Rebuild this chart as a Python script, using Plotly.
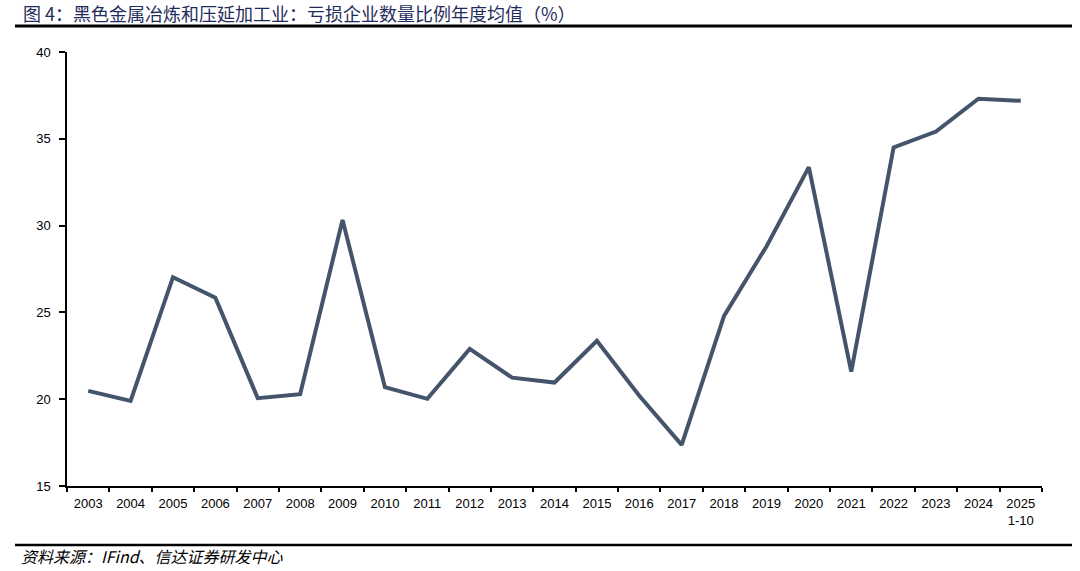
import plotly.graph_objects as go

years = ["2003", "2004", "2005", "2006", "2007", "2008", "2009", "2010", "2011", "2012",
         "2013", "2014", "2015", "2016", "2017", "2018", "2019", "2020", "2021", "2022",
         "2023", "2024", "2025<br>1-10"]
loss_ratio = [20.48, 19.9, 27.03, 25.85, 20.06, 20.29, 30.33, 20.69, 20.02, 22.9,
              21.24, 20.96, 23.36, 20.2, 17.37, 24.8, 28.8, 33.37, 21.59, 34.5,
              35.42, 37.31, 37.19]
y_ticks = [15, 20, 25, 30, 35, 40]

title_text = "图 4：黑色金属冶炼和压延加工业：亏损企业数量比例年度均值（%）"
source_text = "资料来源：IFind、信达证券研发中心"

W, H = 1080, 571
# plot area in page px
PX0, PX1, PY0, PY1 = 67, 1042, 52, 486
L, R, T, B = PX0, W - PX1, PY0, H - PY1
pw, ph = PX1 - PX0, PY1 - PY0

def px_x(p):
    return (p - PX0) / pw

def px_y(p):
    return (PY1 - p) / ph

fig = go.Figure()
fig.add_trace(go.Scatter(
    x=years, y=loss_ratio, mode="lines",
    line=dict(color="#44546A", width=4),
    showlegend=False, hoverinfo="x+y",
))

fig.update_layout(
    width=W, height=H,
    margin=dict(l=L, r=R, t=T, b=B),
    paper_bgcolor="white", plot_bgcolor="white",
    font=dict(family="Liberation Sans, Arial, sans-serif", size=13, color="black"),
    xaxis=dict(
        type="category", showgrid=False, zeroline=False,
        showline=True, linecolor="black", linewidth=1.5,
        ticks="outside", tickson="boundaries", ticklen=4, tickcolor="black", tickwidth=1.5,
        tickfont=dict(size=13, color="black"), ticklabelstandoff=5,
        range=[-0.5, len(years) - 0.5],
    ),
    yaxis=dict(
        range=[15, 40], tickvals=y_ticks, showgrid=False, zeroline=False,
        showline=True, linecolor="black", linewidth=1.5,
        ticks="outside", ticklen=6, tickcolor="black", tickwidth=1.5,
        tickfont=dict(size=13, color="black"), ticklabelstandoff=6,
    ),
    shapes=[
        dict(type="line", xref="paper", yref="paper",
             x0=px_x(15), x1=px_x(1072), y0=px_y(26), y1=px_y(26),
             line=dict(color="black", width=3)),
        dict(type="line", xref="paper", yref="paper",
             x0=px_x(15), x1=px_x(1072), y0=px_y(545), y1=px_y(545),
             line=dict(color="black", width=2.5)),
    ],
    annotations=[
        dict(text=title_text, xref="paper", yref="paper",
             x=px_x(21), y=px_y(13), xanchor="left", yanchor="middle",
             showarrow=False,
             font=dict(family="Noto Sans CJK SC", size=18, color="#1F2D5C")),
        dict(text="<i>" + source_text + "</i>", xref="paper", yref="paper",
             x=px_x(19), y=px_y(556), xanchor="left", yanchor="middle",
             showarrow=False,
             font=dict(family="Noto Sans CJK SC", size=16, color="black")),
    ],
)

fig.write_html("out.html", config={"displayModeBar": False},
               post_script="document.body.style.margin='0';")
